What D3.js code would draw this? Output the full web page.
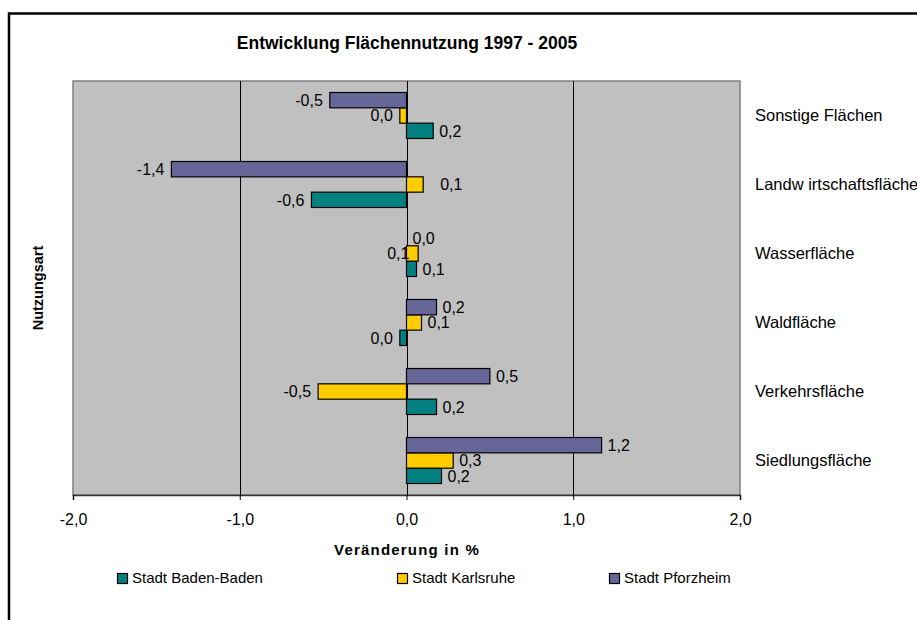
<!DOCTYPE html>
<html>
<head>
<meta charset="utf-8">
<script src="https://cdn.jsdelivr.net/npm/d3@7"></script>
<style>
  html, body { margin: 0; padding: 0; background: #fff; }
  svg { display: block; font-family: "Liberation Sans", Arial, sans-serif; }
</style>
</head>
<body>
<svg id="chart" width="917" height="620"></svg>
<script>
// Land-use categories, listed bottom to top as they appear on the chart
const categories = ["Siedlungsfläche", "Verkehrsfläche", "Waldfläche", "Wasserfläche", "Landw irtschaftsfläche", "Sonstige Flächen"];
const seriesNames = ["Stadt Baden-Baden", "Stadt Karlsruhe", "Stadt Pforzheim"];
// Change 1997 - 2005 in percent, one value per category
const badenBaden = [0.21, 0.18, -0.04, 0.06, -0.57, 0.16];
const karlsruhe  = [0.28, -0.53, 0.09, 0.07, 0.10, -0.04];
const pforzheim  = [1.17, 0.50, 0.18, 0.00, -1.41, -0.46];
const xTicks = [-2, -1, 0, 1, 2];

const seriesValues = [badenBaden, karlsruhe, pforzheim];
const colors = ["#008080", "#FFCC00", "#666699"];

const svg = d3.select("#chart");
const plot = { left: 73, right: 740, top: 81, bottom: 495 };

const de = d3.formatLocale({ decimal: ",", thousands: ".", grouping: [3], currency: ["", " €"], minus: "-" });
const fmt1 = de.format(".1f");
const fmt = v => { const s = fmt1(v); return s === "-0,0" ? "0,0" : s; };

// Outer chart frame
svg.append("rect")
  .attr("x", 9).attr("y", 13.5).attr("width", 930).attr("height", 640)
  .attr("fill", "none").attr("stroke", "#000").attr("stroke-width", 2.5);

const x = d3.scaleLinear().domain([-2, 2]).range([plot.left, plot.right]);
// Top of the chart shows the last category
const y = d3.scaleBand().domain(categories.slice().reverse()).range([plot.top, plot.bottom]).padding(0);
// Within each category the series run Pforzheim, Karlsruhe, Baden-Baden from top to bottom
const ySub = d3.scaleBand().domain([2, 1, 0]).range([0, y.bandwidth()]).paddingInner(0).paddingOuter(0.75);

// Plot area
svg.append("rect")
  .attr("x", plot.left).attr("y", plot.top)
  .attr("width", plot.right - plot.left).attr("height", plot.bottom - plot.top)
  .attr("fill", "#C0C0C0").attr("stroke", "#808080").attr("stroke-width", 1.5);

// Vertical gridlines
svg.append("g").selectAll("line")
  .data(xTicks.filter(t => t > -2 && t < 2))
  .join("line")
  .attr("x1", d => Math.round(x(d)) + 0.5).attr("x2", d => Math.round(x(d)) + 0.5)
  .attr("y1", plot.top).attr("y2", plot.bottom)
  .attr("stroke", "#000").attr("stroke-width", 1);

// X axis
const xAxis = d3.axisBottom(x).tickValues(xTicks).tickFormat(fmt).tickSize(5).tickPadding(14);
const gx = svg.append("g").attr("transform", `translate(0,${plot.bottom})`).call(xAxis);
gx.select(".domain").attr("stroke", "#333").attr("stroke-width", 1.5);
gx.selectAll(".tick line").attr("stroke", "#000");
gx.selectAll(".tick text").attr("font-size", 16).attr("fill", "#000")
  .attr("font-family", "Liberation Sans, Arial, sans-serif");

// Bars
const cells = [];
categories.forEach((c, i) => {
  seriesValues.forEach((vals, s) => cells.push({ cat: c, s, v: vals[i] }));
});

svg.append("g").selectAll("rect")
  .data(cells)
  .join("rect")
  .attr("x", d => x(Math.min(0, d.v)))
  .attr("width", d => Math.abs(x(d.v) - x(0)))
  .attr("y", d => y(d.cat) + ySub(d.s))
  .attr("height", ySub.bandwidth())
  .attr("fill", d => colors[d.s])
  .attr("stroke", "#000").attr("stroke-width", 1.2);

// Value labels; two labels sit shifted where bars crowd each other
const labelShift = { "Wasserfläche|1": -37, "Landw irtschaftsfläche|1": 11 };
svg.append("g").selectAll("text")
  .data(cells)
  .join("text")
  .attr("x", d => {
    const base = d.v < 0 ? x(d.v) - 7 : x(d.v) + 6;
    return base + (labelShift[d.cat + "|" + d.s] || 0);
  })
  .attr("y", d => y(d.cat) + ySub(d.s) + ySub.bandwidth() / 2)
  .attr("dy", "0.36em")
  .attr("text-anchor", d => d.v < 0 ? "end" : "start")
  .attr("font-size", 16)
  .text(d => fmt(d.v));

// Category names to the right of the plot
svg.append("g").selectAll("text")
  .data(categories)
  .join("text")
  .attr("x", 755)
  .attr("y", d => y(d) + y.bandwidth() / 2)
  .attr("dy", "0.36em")
  .attr("font-size", 16.5)
  .text(d => d);

// Titles
svg.append("text")
  .attr("x", 407).attr("y", 43).attr("dy", "0.36em")
  .attr("text-anchor", "middle").attr("font-weight", "bold").attr("font-size", 17.5)
  .text("Entwicklung Flächennutzung 1997 - 2005");

svg.append("text")
  .attr("x", 407).attr("y", 550).attr("dy", "0.36em")
  .attr("text-anchor", "middle").attr("font-weight", "bold").attr("font-size", 15)
  .attr("letter-spacing", 1.2)
  .text("Veränderung in %");

svg.append("text")
  .attr("transform", "translate(38,288) rotate(-90)")
  .attr("dy", "0.36em")
  .attr("text-anchor", "middle").attr("font-weight", "bold").attr("font-size", 14.5)
  .text("Nutzungsart");

// Legend
const legendX = [117, 397, 609];
const lg = svg.append("g").selectAll("g")
  .data(seriesNames)
  .join("g")
  .attr("transform", (d, i) => `translate(${legendX[i]},578)`);
lg.append("rect")
  .attr("x", 0.5).attr("y", -4.5).attr("width", 10).attr("height", 10)
  .attr("fill", (d, i) => colors[i]).attr("stroke", "#000").attr("stroke-width", 1.2);
lg.append("text")
  .attr("x", 15).attr("y", 0).attr("dy", "0.36em")
  .attr("font-size", 15)
  .text(d => d);
</script>
</body>
</html>
